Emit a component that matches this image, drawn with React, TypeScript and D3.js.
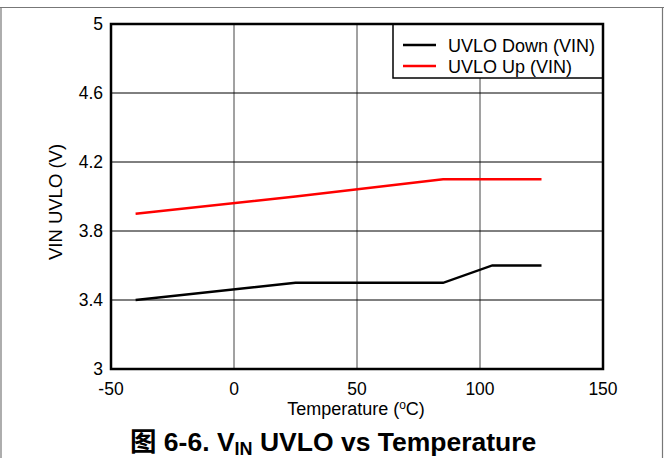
import React from "react";
import * as d3 from "d3";

const downTemps = [-40, 25, 85, 105, 125];
const downValues = [3.4, 3.5, 3.5, 3.6, 3.6];
const upTemps = [-40, 25, 85, 125];
const upValues = [3.9, 4.0, 4.1, 4.1];
const xTicks = [-50, 0, 50, 100, 150];
const yTicks = [3, 3.4, 3.8, 4.2, 4.6, 5];
const seriesNames = ["UVLO Down (VIN)", "UVLO Up (VIN)"];
const seriesColors = ["#000000", "#ff0000"];

const W = 664, H = 458;
const L = 111, R = 603, T = 24, B = 369;
const font = "'Liberation Sans', Arial, sans-serif";

export default function App() {
  const x = d3.scaleLinear().domain([-50, 150]).range([L, R]);
  const y = d3.scaleLinear().domain([3, 5]).range([B, T]);
  const line = d3.line<[number, number]>().x(d => x(d[0])).y(d => y(d[1]));
  const down = downTemps.map((t, i) => [t, downValues[i]] as [number, number]);
  const up = upTemps.map((t, i) => [t, upValues[i]] as [number, number]);
  const series = [down, up];
  return (
    <svg width={W} height={H} style={{ position: "absolute", left: 0, top: 0, background: "#fff" }}>
      <rect x={0} y={0} width={W} height={H} fill="#fff" />
      <line x1={0} x2={W} y1={7.5} y2={7.5} stroke="#777" strokeWidth={1.2} />
      <line x1={1} x2={1} y1={7.5} y2={H} stroke="#777" strokeWidth={1.2} />
      <line x1={662.5} x2={662.5} y1={7.5} y2={H} stroke="#777" strokeWidth={1.2} />
      {xTicks.slice(1, -1).map(t => (
        <line key={"gx" + t} x1={x(t)} x2={x(t)} y1={T} y2={B} stroke="#444" strokeWidth={1} />
      ))}
      {yTicks.slice(1, -1).map(t => (
        <line key={"gy" + t} x1={L} x2={R} y1={y(t)} y2={y(t)} stroke="#000" strokeWidth={1} />
      ))}
      {series.map((s, i) => (
        <path key={i} d={line(s) || ""} fill="none" stroke={seriesColors[i]} strokeWidth={2.3} />
      ))}
      <rect x={393} y={T} width={R - 393} height={54} fill="#fff" stroke="#000" strokeWidth={1.5} />
      {seriesNames.map((n, i) => (
        <g key={n}>
          <line x1={403} x2={436} y1={45 + i * 21} y2={45 + i * 21} stroke={seriesColors[i]} strokeWidth={2.3} />
          <text x={448} y={51.5 + i * 21} fontFamily={font} fontSize={18} fill="#000">{n}</text>
        </g>
      ))}
      <rect x={L} y={T} width={R - L} height={B - T} fill="none" stroke="#000" strokeWidth={2.5} />
      {xTicks.map(t => (
        <text key={"xt" + t} x={x(t)} y={395} textAnchor="middle" fontFamily={font} fontSize={17.5} fill="#000">{t}</text>
      ))}
      {yTicks.map(t => (
        <text key={"yt" + t} x={103} y={y(t) + 6} textAnchor="end" fontFamily={font} fontSize={17.5} fill="#000">{String(t)}</text>
      ))}
      <text x={356} y={415} textAnchor="middle" fontFamily={font} fontSize={18} fill="#000">
        Temperature (<tspan dy={-6} fontSize={12}>o</tspan><tspan dy={6}>C)</tspan>
      </text>
      <text transform={`translate(62, 202) rotate(-90)`} textAnchor="middle" fontFamily={font} fontSize={18.5} fill="#000">VIN UVLO (V)</text>
      <text x={130} y={451} textAnchor="start" fontFamily={font} fontSize={26.5} fontWeight="bold" fill="#000">
        <tspan fontFamily="'Noto Sans CJK SC', sans-serif" fontWeight="bold">图</tspan> 6-6. V<tspan dy={4} fontSize={18}>IN</tspan><tspan dy={-4}> UVLO vs Temperature</tspan>
      </text>
    </svg>
  );
}
